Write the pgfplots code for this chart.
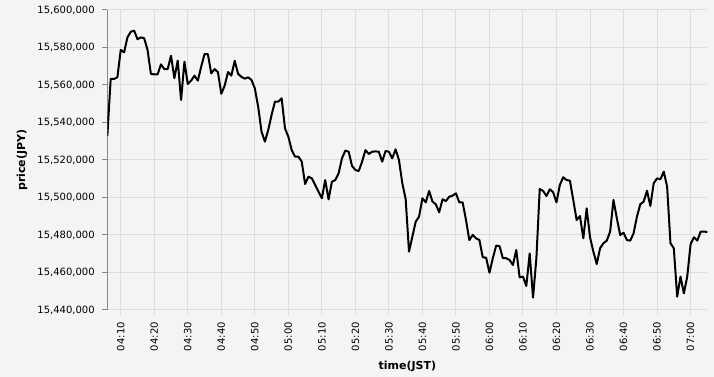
\documentclass[border=0pt]{standalone}
\usepackage{fontspec}
\setmainfont{DejaVu Sans}
\usepackage{pgfplots}
\pgfplotsset{compat=1.18}
\usepackage{pgfplotstable}
\definecolor{bgc}{HTML}{F4F4F4}
\definecolor{gridc}{HTML}{DDDDDD}
\definecolor{axc}{HTML}{888888}
\pgfplotstableread{
t price
6 15532800
7 15563200
8 15563200
9 15564100
10 15578700
11 15577400
12 15585400
13 15588400
14 15589000
15 15584400
16 15585400
17 15584900
18 15578700
19 15565900
20 15565700
21 15565700
22 15571000
23 15568500
24 15568500
25 15575600
26 15563600
27 15573000
28 15552000
29 15572400
30 15560500
31 15562300
32 15565000
33 15562300
34 15569800
35 15576500
36 15576400
37 15566200
38 15568500
39 15566800
40 15555300
41 15559600
42 15566900
43 15565000
44 15572900
45 15566000
46 15564300
47 15563400
48 15564100
49 15562700
50 15558200
51 15548400
52 15535100
53 15529800
54 15536000
55 15544000
56 15551100
57 15551100
58 15552900
59 15536900
60 15532400
61 15525300
62 15521800
63 15521800
64 15519100
65 15507200
66 15511100
67 15510200
68 15506700
69 15503100
70 15499600
71 15509300
72 15499000
73 15508400
74 15509300
75 15512900
76 15520900
77 15525000
78 15524400
79 15516800
80 15514700
81 15514100
82 15519100
83 15525300
84 15523200
85 15524400
86 15524600
87 15524400
88 15519100
89 15524800
90 15524400
91 15520900
92 15525700
93 15520000
94 15507600
95 15499200
96 15471100
97 15479100
98 15487100
99 15489800
100 15499600
101 15497400
102 15503500
103 15497800
104 15496400
105 15492100
106 15499000
107 15498100
108 15500400
109 15501000
110 15502200
111 15497400
112 15497400
113 15488000
114 15477300
115 15480000
116 15478200
117 15477300
118 15468100
119 15467900
120 15459900
121 15467600
122 15474300
123 15474100
124 15467600
125 15467600
126 15466700
127 15464000
128 15472000
129 15457400
130 15457800
131 15452800
132 15470200
133 15446600
134 15467600
135 15504500
136 15503500
137 15500800
138 15504400
139 15502800
140 15497400
141 15506700
142 15510800
143 15509300
144 15509000
145 15498700
146 15488000
147 15490100
148 15478200
149 15494200
150 15478800
151 15471100
152 15464500
153 15472900
154 15475600
155 15477000
156 15481800
157 15498700
158 15488900
159 15480000
160 15481200
161 15477300
162 15477000
163 15480900
164 15489800
165 15496400
166 15497800
167 15503600
168 15495500
169 15507600
170 15510200
171 15509700
172 15513800
173 15505800
174 15475600
175 15472900
176 15447100
177 15457800
178 15448900
179 15457800
180 15475000
181 15478800
182 15477000
183 15481800
184 15481800
185 15481600
}\pricetable
\begin{document}
\begin{tikzpicture}
\path[use as bounding box, fill=bgc] (0,0) rectangle (535.5pt,282.75pt);
\begin{axis}[
  at={(80.5pt,50.25pt)}, anchor=south west,
  scale only axis, width=450pt, height=225pt,
  xmin=6, xmax=185, ymin=15440000, ymax=15600000,
  axis x line*=bottom, axis y line*=left,
  x axis line style={draw=gridc, line width=0.75pt, -},
  y axis line style={draw=axc, line width=0.75pt, -},
  tick align=outside, major tick length=3.75pt,
  xtick style={draw=gridc, line width=0.75pt},
  ytick style={draw=axc, line width=0.75pt},
  grid=major, grid style={draw=gridc, line width=0.75pt},
  xtick={10,20,...,180},
  xticklabels={04:10,04:20,04:30,04:40,04:50,05:00,05:10,05:20,05:30,05:40,05:50,06:00,06:10,06:20,06:30,06:40,06:50,07:00},
  ytick={15440000,15460000,15480000,15500000,15520000,15540000,15560000,15580000,15600000},
  yticklabels={{15,440,000},{15,460,000},{15,480,000},{15,500,000},{15,520,000},{15,540,000},{15,560,000},{15,580,000},{15,600,000}},
  scaled y ticks=false,
  yticklabel style={font=\fontsize{7.5pt}{9pt}\selectfont, anchor=east, inner xsep=0pt, inner ysep=0pt, xshift=-5.5pt},
  xticklabel style={font=\fontsize{7.5pt}{9pt}\selectfont, rotate=90, anchor=east, inner xsep=0pt, inner ysep=0pt, xshift=-5.25pt},
  xlabel={time(JST)}, ylabel={price(JPY)},
  xlabel style={font=\fontsize{8.25pt}{10pt}\selectfont\bfseries, at={(axis description cs:0.5,-0.189)}, anchor=center},
  ylabel style={font=\fontsize{8.25pt}{10pt}\selectfont\bfseries, at={(axis description cs:-0.142,0.5)}, anchor=center, rotate=0},
]
\addplot[black, line width=1.5pt, line join=round, mark=none] table[x=t, y=price] {\pricetable};
\end{axis}
\end{tikzpicture}
\end{document}
